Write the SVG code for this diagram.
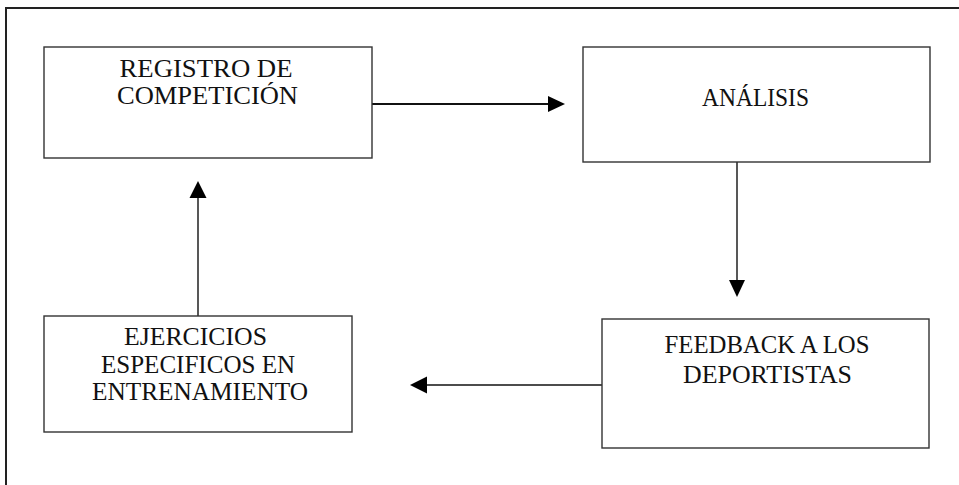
<svg xmlns="http://www.w3.org/2000/svg" width="959" height="485" viewBox="0 0 959 485">
<style>
.box{fill:#fff;stroke:#333;stroke-width:1.4}
.frame{fill:none;stroke:#222;stroke-width:2}
.lbl{font-family:"Liberation Serif","Times New Roman",serif;font-size:25.5px;fill:#111;text-anchor:middle}
.con{stroke:#111;fill:none}
.head{fill:#000}
</style>
<rect width="959" height="485" fill="#fff"/>
<path class="frame" d="M6,490 V8 H965"/>
<g id="connectors">
  <line class="con" stroke-width="2" x1="372" y1="104" x2="548" y2="104"/>
  <polygon class="head" points="548,96 565,104 548,112"/>
  <line class="con" stroke-width="1.4" x1="737" y1="162" x2="737" y2="281"/>
  <polygon class="head" points="729,280 745,280 737,297"/>
  <line class="con" stroke-width="1.4" x1="602" y1="385" x2="426" y2="385"/>
  <polygon class="head" points="427,376.5 410,385 427,393.5"/>
  <line class="con" stroke-width="1.4" x1="198" y1="316" x2="198" y2="197"/>
  <polygon class="head" points="189.5,198 206.5,198 198,181"/>
</g>
<g id="registro">
  <rect class="box" x="44" y="47" width="328" height="111"/>
  <text class="lbl" x="206" y="77" textLength="173" lengthAdjust="spacingAndGlyphs">REGISTRO DE</text>
  <text class="lbl" x="207.5" y="104" textLength="181" lengthAdjust="spacingAndGlyphs">COMPETICIÓN</text>
</g>
<g id="analisis">
  <rect class="box" x="583" y="47" width="347" height="115"/>
  <text class="lbl" x="755.5" y="106" textLength="107" lengthAdjust="spacingAndGlyphs">ANÁLISIS</text>
</g>
<g id="feedback">
  <rect class="box" x="602" y="319" width="327" height="129"/>
  <text class="lbl" x="767" y="353" textLength="205" lengthAdjust="spacingAndGlyphs">FEEDBACK A LOS</text>
  <text class="lbl" x="767.5" y="383" textLength="169" lengthAdjust="spacingAndGlyphs">DEPORTISTAS</text>
</g>
<g id="ejercicios">
  <rect class="box" x="44" y="316" width="308" height="116"/>
  <text class="lbl" x="195.5" y="345" textLength="143" lengthAdjust="spacingAndGlyphs">EJERCICIOS</text>
  <text class="lbl" x="198" y="373" textLength="194" lengthAdjust="spacingAndGlyphs">ESPECIFICOS EN</text>
  <text class="lbl" x="200" y="400" textLength="216" lengthAdjust="spacingAndGlyphs">ENTRENAMIENTO</text>
</g>
</svg>
